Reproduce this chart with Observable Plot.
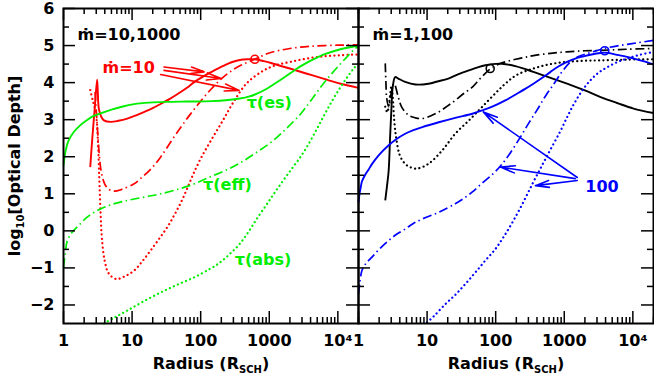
<!DOCTYPE html>
<html>
<head>
<meta charset="utf-8">
<script src="https://cdn.jsdelivr.net/npm/d3@7"></script>
<script src="https://cdn.jsdelivr.net/npm/@observablehq/plot@0.6"></script>
<style>
  html, body { margin: 0; padding: 0; background: #fff; }
</style>
</head>
<body>
<div id="chart"></div>
<script>
// ---- panels (facets) ----
const panels = ["ṁ=10,1000", "ṁ=1,100"];

// ---- axis ticks ----
const xMajor = [1, 10, 100, 1000, 10000];
const xTickLabels = ["1", "10", "100", "1000", "10⁴"];
const xMinor = [2,3,4,5,6,7,8,9,20,30,40,50,60,70,80,90,200,300,400,500,600,700,800,900,2000,3000,4000,5000,6000,7000,8000,9000,20000];
const yMajor = [-2, -1, 0, 1, 2, 3, 4, 5, 6];
const yMinor = [-1.5, -0.5, 0.5, 1.5, 2.5, 3.5, 4.5, 5.5];

// ---- left panel: mdot = 10 (red) ----
const lrRedEs  = [0.39,0.42,0.455,0.49,0.50,0.515,0.55,0.59,0.69,0.8,0.93,1.05,1.18,1.3,1.42,1.55,1.67,1.8,1.91,2.04,2.16,2.33,2.45,2.57,2.68,2.79,2.92,3.06,3.3,3.55,3.8,4.04,4.30];
const tauRedEs = [1.72,2.5,3.3,4.08,3.75,3.3,3.08,2.98,2.94,2.97,3.03,3.11,3.21,3.31,3.43,3.56,3.70,3.86,4.02,4.17,4.29,4.45,4.55,4.61,4.63,4.63,4.58,4.51,4.38,4.24,4.1,3.97,3.86];
const lrRedEff  = [0.46,0.49,0.52,0.55,0.6,0.66,0.74,0.85,1.03,1.13,1.3,1.42,1.57,1.72,1.85,2.0,2.15,2.3,2.45,2.6,2.79,3.0,3.3,3.6,4.0,4.30];
const tauRedEff = [3.75,2.9,2.1,1.6,1.27,1.12,1.07,1.12,1.27,1.42,1.72,2.0,2.42,2.82,3.15,3.5,3.82,4.1,4.32,4.48,4.63,4.8,4.92,4.98,5.01,5.02];
const lrRedAbs  = [0.39,0.43,0.47,0.50,0.52,0.54,0.56,0.6,0.66,0.77,0.9,1.03,1.15,1.27,1.4,1.52,1.62,1.72,1.81,1.89,2.0,2.16,2.33,2.48,2.67,2.92,3.1,3.31,3.55,3.8,4.05,4.30];
const tauRedAbs = [3.8,3.5,3.2,2.5,1.5,0.5,-0.2,-0.8,-1.15,-1.3,-1.22,-1.07,-0.82,-0.53,-0.2,0.12,0.44,0.8,1.17,1.52,1.95,2.47,3.0,3.48,3.98,4.33,4.47,4.56,4.65,4.71,4.74,4.76];

// ---- left panel: mdot = 1000 (green) ----
const lrGreenEs  = [0,0.03,0.07,0.147,0.25,0.35,0.44,0.54,0.7,0.85,1.03,1.25,1.5,1.8,2.16,2.4,2.57,2.7,2.82,2.95,3.06,3.2,3.31,3.43,3.55,3.68,3.8,4.0,4.2,4.30];
const tauGreenEs = [1.76,2.15,2.42,2.66,2.86,3.0,3.1,3.17,3.27,3.35,3.42,3.46,3.48,3.49,3.50,3.53,3.57,3.62,3.70,3.82,3.95,4.12,4.26,4.41,4.54,4.66,4.76,4.88,4.96,4.99];
const lrGreenEff  = [0,0.025,0.05,0.1,0.147,0.25,0.344,0.45,0.54,0.7,0.93,1.2,1.42,1.7,1.91,2.13,2.35,2.57,2.8,3.06,3.26,3.46,3.6,3.75,3.9,4.04,4.15,4.24,4.30];
const tauGreenEff = [-0.98,-0.62,-0.3,-0.1,0.01,0.2,0.37,0.5,0.59,0.71,0.82,0.92,1.0,1.14,1.27,1.45,1.62,1.83,2.1,2.44,2.78,3.16,3.5,3.88,4.22,4.51,4.73,4.9,4.98];
const lrGreenAbs  = [0.59,0.75,0.93,1.15,1.42,1.65,1.91,2.13,2.23,2.33,2.45,2.57,2.7,2.82,2.95,3.06,3.2,3.33,3.45,3.55,3.68,3.8,3.92,4.04,4.15,4.24,4.30];
const tauGreenAbs = [-2.5,-2.33,-2.15,-1.92,-1.66,-1.46,-1.25,-1.03,-0.92,-0.78,-0.58,-0.35,-0.02,0.33,0.68,0.98,1.35,1.68,1.98,2.27,2.7,3.12,3.52,3.88,4.18,4.4,4.52];

// ---- right panel: mdot = 1 (black) ----
const lrBlackEs  = [0.39,0.415,0.44,0.46,0.48,0.5,0.535,0.58,0.68,0.83,1.02,1.15,1.31,1.45,1.61,1.75,1.85,1.95,2.09,2.3,2.55,2.8,3.04,3.3,3.53,3.77,4.01,4.30];
const tauBlackEs = [0.82,1.2,1.63,2.5,3.3,3.9,4.15,4.11,4.02,3.95,3.97,4.03,4.11,4.22,4.33,4.42,4.47,4.50,4.51,4.44,4.29,4.13,3.97,3.79,3.61,3.45,3.30,3.18];
const lrBlackEff  = [0.39,0.40,0.41,0.44,0.48,0.52,0.58,0.63,0.73,0.83,0.93,1.05,1.17,1.29,1.41,1.53,1.66,1.78,1.92,2.05,2.2,2.4,2.55,2.8,3.04,3.3,3.53,3.9,4.30];
const tauBlackEff = [4.52,4.0,3.6,3.35,3.75,3.97,3.61,3.34,3.12,3.05,3.03,3.1,3.21,3.36,3.52,3.7,3.88,4.12,4.37,4.5,4.59,4.67,4.73,4.79,4.83,4.86,4.87,4.9,4.92];
const lrBlackAbs  = [0.39,0.42,0.45,0.48,0.5,0.52,0.55,0.6,0.66,0.73,0.85,1.02,1.22,1.41,1.61,1.8,2.0,2.14,2.3,2.55,2.8,3.04,3.3,3.53,3.9,4.30];
const tauBlackAbs = [3.35,3.2,3.5,3.9,3.6,3.0,2.5,2.05,1.85,1.74,1.68,1.81,2.17,2.62,2.98,3.34,3.72,3.97,4.2,4.38,4.5,4.56,4.59,4.6,4.62,4.63];

// ---- right panel: mdot = 100 (blue) ----
const lrBlueEs  = [0,0.015,0.035,0.05,0.1,0.146,0.196,0.3,0.44,0.55,0.68,0.8,0.93,1.17,1.41,1.66,1.82,1.95,2.14,2.31,2.43,2.55,2.68,2.8,2.92,3.04,3.16,3.28,3.4,3.53,3.59,3.65,3.77,3.9,4.01,4.15,4.30];
const tauBlueEs = [0.77,1.0,1.2,1.33,1.52,1.65,1.8,2.05,2.31,2.47,2.62,2.72,2.80,2.93,3.05,3.16,3.26,3.35,3.52,3.70,3.83,3.97,4.13,4.29,4.44,4.56,4.65,4.71,4.76,4.80,4.81,4.80,4.75,4.70,4.65,4.58,4.49];
const lrBlueEff  = [0,0.02,0.05,0.1,0.196,0.3,0.44,0.55,0.68,0.8,0.93,1.17,1.41,1.53,1.66,1.78,1.95,2.07,2.2,2.36,2.48,2.6,2.72,2.85,2.97,3.09,3.2,3.33,3.45,3.58,3.8,4.05,4.30];
const tauBlueEff = [-1.7,-1.4,-1.07,-0.9,-0.71,-0.5,-0.26,-0.1,0.05,0.2,0.32,0.5,0.73,0.87,1.05,1.25,1.52,1.75,2.07,2.53,2.9,3.25,3.62,3.97,4.3,4.56,4.7,4.78,4.85,4.92,5.0,5.07,5.14];
const lrBlueAbs  = [1.0,1.1,1.27,1.42,1.56,1.7,1.85,2.0,2.12,2.26,2.41,2.55,2.68,2.8,2.94,3.04,3.14,3.26,3.38,3.5,3.63,3.78,3.92,4.1,4.30];
const tauBlueAbs = [-2.47,-2.3,-1.97,-1.71,-1.43,-1.13,-0.8,-0.48,-0.15,0.28,0.8,1.32,1.78,2.2,2.68,3.06,3.42,3.78,4.06,4.27,4.42,4.56,4.65,4.75,4.83];

// ---- markers (open circles): [panel, log10 r, log10 tau] ----
const markerPanel = [0, 1, 1];
const markerLr    = [2.79, 1.92, 3.59];
const markerTau   = [4.63, 4.38, 4.86];
const markerColor = ["#ff0000", "#000000", "#0000ff"];

// ---- annotation arrows: panel, from (lr, tau) to (lr, tau) ----
const arrowPanel = [0, 0, 0, 1, 1, 1];
const arrowLr1   = [1.465, 1.465, 1.416, 3.19, 3.16, 3.19];
const arrowTau1  = [4.42, 4.33, 4.22, 1.44, 1.41, 1.36];
const arrowLr2   = [2.05, 2.30, 2.56, 1.82, 2.07, 2.58];
const arrowTau2  = [4.29, 4.11, 3.79, 3.21, 1.72, 1.22];
const arrowColor = ["#ff0000","#ff0000","#ff0000","#0000ff","#0000ff","#0000ff"];

// ---- in-plot labels ----
const labelPanel = [0, 0, 0, 0, 1];
const labelText  = ["ṁ=10", "τ(es)", "τ(eff)", "τ(abs)", "100"];
const labelLr    = [0.95, 3.0, 2.39, 2.91, 3.55];
const labelTau   = [4.39, 3.45, 1.24, -0.79, 1.2];
const labelColor = ["#ff0000", "#00ee00", "#00ee00", "#00ee00", "#0000ff"];

// ---- build tables ----
const RED = "#ff0000", GREEN = "#00ee00", BLACK = "#000000", BLUE = "#0000ff";
const series = [
  {p: 0, c: RED,   s: "es",  lr: lrRedEs,    t: tauRedEs},
  {p: 0, c: RED,   s: "eff", lr: lrRedEff,   t: tauRedEff},
  {p: 0, c: RED,   s: "abs", lr: lrRedAbs,   t: tauRedAbs},
  {p: 0, c: GREEN, s: "es",  lr: lrGreenEs,  t: tauGreenEs},
  {p: 0, c: GREEN, s: "eff", lr: lrGreenEff, t: tauGreenEff},
  {p: 0, c: GREEN, s: "abs", lr: lrGreenAbs, t: tauGreenAbs},
  {p: 1, c: BLACK, s: "es",  lr: lrBlackEs,  t: tauBlackEs},
  {p: 1, c: BLACK, s: "eff", lr: lrBlackEff, t: tauBlackEff},
  {p: 1, c: BLACK, s: "abs", lr: lrBlackAbs, t: tauBlackAbs},
  {p: 1, c: BLUE,  s: "es",  lr: lrBlueEs,   t: tauBlueEs},
  {p: 1, c: BLUE,  s: "eff", lr: lrBlueEff,  t: tauBlueEff},
  {p: 1, c: BLUE,  s: "abs", lr: lrBlueAbs,  t: tauBlueAbs}
];
const styleOf = {
  es:  {strokeWidth: 1.9, strokeDasharray: null, strokeLinecap: "butt"},
  eff: {strokeWidth: 1.7, strokeDasharray: "9,3.5,1.5,3.5", strokeLinecap: "butt"},
  abs: {strokeWidth: 2.2, strokeDasharray: "0.1,4.3", strokeLinecap: "round"}
};
const lineMarks = series.map(se => {
  const rows = se.lr.map((lr, i) => ({panel: panels[se.p], r: Math.pow(10, lr), tau: se.t[i]}));
  return Plot.line(rows, {
    x: "r", y: "tau", fx: "panel", stroke: se.c,
    strokeWidth: styleOf[se.s].strokeWidth,
    strokeDasharray: styleOf[se.s].strokeDasharray,
    strokeLinecap: styleOf[se.s].strokeLinecap,
    curve: "catmull-rom"
  });
});
const markers = markerLr.map((lr, i) => ({panel: panels[markerPanel[i]], r: Math.pow(10, lr), tau: markerTau[i], color: markerColor[i]}));
const arrows = arrowLr1.map((lr, i) => ({panel: panels[arrowPanel[i]], r1: Math.pow(10, lr), t1: arrowTau1[i], r2: Math.pow(10, arrowLr2[i]), t2: arrowTau2[i], color: arrowColor[i]}));
const labels = labelText.map((t, i) => ({panel: panels[labelPanel[i]], text: t, r: Math.pow(10, labelLr[i]), tau: labelTau[i], color: labelColor[i]}));

const FW = 295, FH = 315; // facet inner size, used for inward tick insets
const MAJ = 12, MIN = 6;

const chart = Plot.plot({
  width: 654,
  height: 376,
  marginLeft: 63,
  marginRight: 1,
  marginTop: 8,
  marginBottom: 53,
  style: "font-family: 'DejaVu Sans', sans-serif; font-size: 16px; font-weight: bold; background: #fff; color: #000;",
  fx: {domain: panels, padding: 0, axis: null, label: null},
  x: {type: "log", domain: [1, 20000], label: null},
  y: {domain: [-2.5, 6], label: null},
  marks: [
    ...lineMarks,
    Plot.dot(markers, {x: "r", y: "tau", fx: "panel", r: 4, stroke: d => d.color, fill: "none", strokeWidth: 1.6}),
    Plot.arrow(arrows, {x1: "r1", y1: "t1", x2: "r2", y2: "t2", fx: "panel", stroke: d => d.color, strokeWidth: 1.6, headLength: 14, headAngle: 28}),
    Plot.text(labels, {x: "r", y: "tau", fx: "panel", text: "text", fill: d => d.color, fontSize: 16, fontWeight: "bold"}),
    // panel titles
    Plot.text(panels, {fx: d => d, text: d => d, frameAnchor: "top-left", textAnchor: "start", dx: 14, dy: 20, fontSize: 16, fontWeight: "bold", fill: "#000"}),
    // inward ticks: bottom / top
    Plot.tickX(xMajor, {x: d => d, insetTop: FH - MAJ, stroke: "#000", strokeWidth: 1.5}),
    Plot.tickX(xMinor, {x: d => d, insetTop: FH - MIN, stroke: "#000", strokeWidth: 1.5}),
    Plot.tickX(xMajor, {x: d => d, insetBottom: FH - MAJ, stroke: "#000", strokeWidth: 1.5}),
    Plot.tickX(xMinor, {x: d => d, insetBottom: FH - MIN, stroke: "#000", strokeWidth: 1.5}),
    // inward ticks: left / right
    Plot.tickY(yMajor, {y: d => d, insetRight: FW - MAJ, stroke: "#000", strokeWidth: 1.5}),
    Plot.tickY(yMinor, {y: d => d, insetRight: FW - MIN, stroke: "#000", strokeWidth: 1.5}),
    Plot.tickY(yMajor, {y: d => d, insetLeft: FW - MAJ, stroke: "#000", strokeWidth: 1.5}),
    Plot.tickY(yMinor, {y: d => d, insetLeft: FW - MIN, stroke: "#000", strokeWidth: 1.5}),
    Plot.frame({stroke: "#000", strokeWidth: 2}),
    Plot.axisX({ticks: xMajor, tickSize: 0, tickPadding: 11, tickFormat: d => xTickLabels[xMajor.indexOf(d)], label: null, fontSize: 16}),
    Plot.axisY({ticks: yMajor, tickSize: 0, tickPadding: 9, label: null, fontSize: 16}),
    // axis titles
    Plot.text([panels[0]], {fx: d => d, text: () => "log10[Optical Depth]", frameAnchor: "left", rotate: -90, dx: -49, textAnchor: "middle", fontSize: 16, fontWeight: "bold"}),
    Plot.text(panels, {fx: d => d, text: () => "Radius (RSCH)", frameAnchor: "bottom", textAnchor: "middle", dy: 45, fontSize: 16, fontWeight: "bold"})
  ]
});
document.getElementById("chart").appendChild(chart);

// subscripts in axis titles
d3.select(chart).selectAll("text").each(function() {
  const t = d3.select(this);
  const s = this.textContent;
  if (s === "Radius (RSCH)") {
    t.text(null);
    t.append("tspan").text("Radius (R");
    t.append("tspan").attr("font-size", 10).attr("dy", 4).text("SCH");
    t.append("tspan").attr("dy", -4).text(")");
  } else if (s === "log10[Optical Depth]") {
    t.text(null);
    t.append("tspan").text("log");
    t.append("tspan").attr("font-size", 10).attr("dy", 4).text("10");
    t.append("tspan").attr("dy", -4).text("[Optical Depth]");
  }
});
</script>
</body>
</html>
